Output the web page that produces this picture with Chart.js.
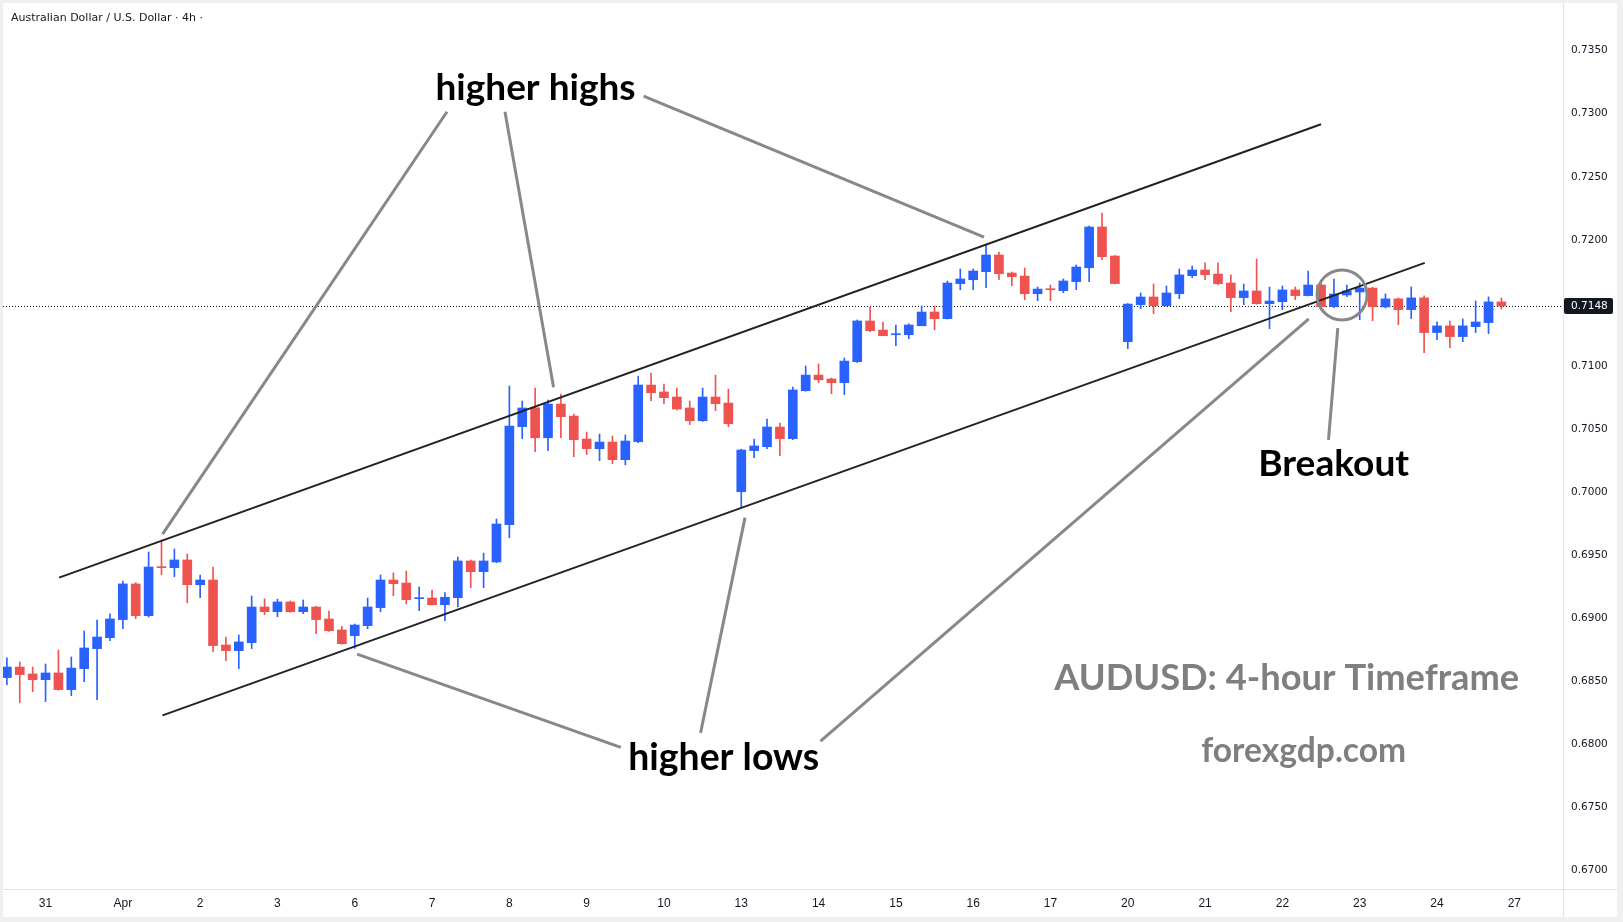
<!DOCTYPE html>
<html>
<head>
<meta charset="utf-8">
<script src="https://cdn.jsdelivr.net/npm/chart.js@4.4.1/dist/chart.umd.min.js"></script>
<style>
html,body{margin:0;padding:0;background:#fff;overflow:hidden}
#wrap{position:absolute;left:0;top:0;width:1623px;height:922px}
canvas{display:block}
</style>
</head>
<body>
<div id="wrap"><canvas id="c" width="1623" height="922" style="width:1623px;height:922px"></canvas></div>
<script>
// ---------- DATA (AUDUSD 4h candles, one per bar index) ----------
const chartTitle = 'Australian Dollar / U.S. Dollar · 4h ·';
const dayLabels = ['31','Apr','2','3','6','7','8','9','10','13','14','15','16','17','20','21','22','23','24','27'];
const dayStartBars = [3,9,15,21,27,33,39,45,51,57,63,69,75,81,87,93,99,105,111,117];
const priceTicks = [0.6700,0.6750,0.6800,0.6850,0.6900,0.6950,0.7000,0.7050,0.7100,0.7150,0.7200,0.7250,0.7300,0.7350];

const opens = [
0.68529,0.68613,0.68558,0.68513,0.68566,0.68434,0.68600,0.68759,0.68846,0.68989,
0.69272,0.69020,0.69406,0.69401,0.69462,0.69266,0.69303,0.68788,0.68743,0.68806,
0.69089,0.69052,0.69129,0.69052,0.69089,0.68994,0.68907,0.68862,0.68941,0.69084,
0.69303,0.69279,0.69155,0.69160,0.69107,0.69163,0.69454,0.69369,0.69446,0.69742,
0.70519,0.70669,0.70431,0.70698,0.70603,0.70421,0.70344,0.70397,0.70257,0.70400,
0.70849,0.70794,0.70754,0.70667,0.70566,0.70754,0.70706,0.70003,0.70329,0.70360,
0.70516,0.70424,0.70804,0.70928,0.70897,0.70868,0.71034,0.71357,0.71285,0.71248,
0.71248,0.71319,0.71428,0.71375,0.71653,0.71684,0.71748,0.71880,0.71737,0.71713,
0.71573,0.71610,0.71597,0.71669,0.71779,0.72102,0.71872,0.71193,0.71486,0.71547,
0.71478,0.71573,0.71716,0.71761,0.71729,0.71658,0.71542,0.71595,0.71494,0.71510,
0.71603,0.71558,0.71642,0.71470,0.71563,0.71587,0.71618,0.71468,0.71532,0.71447,
0.71540,0.71265,0.71318,0.71233,0.71312,0.71344,0.71508];
const highs = [
0.68685,0.68653,0.68613,0.68637,0.68748,0.68693,0.68899,0.68986,0.69034,0.69295,
0.69282,0.69525,0.69620,0.69549,0.69509,0.69343,0.69406,0.68851,0.68867,0.69176,
0.69153,0.69152,0.69137,0.69145,0.69095,0.69057,0.68936,0.68954,0.69160,0.69343,
0.69359,0.69374,0.69248,0.69224,0.69203,0.69485,0.69462,0.69517,0.69787,0.70841,
0.70722,0.70825,0.70730,0.70778,0.70619,0.70476,0.70460,0.70445,0.70453,0.70920,
0.70944,0.70857,0.70825,0.70722,0.70825,0.70928,0.70817,0.70340,0.70421,0.70580,
0.70548,0.70833,0.71000,0.71016,0.70905,0.71063,0.71365,0.71468,0.71349,0.71325,
0.71335,0.71476,0.71476,0.71674,0.71769,0.71769,0.71967,0.71904,0.71745,0.71777,
0.71626,0.71642,0.71690,0.71801,0.72110,0.72213,0.71875,0.71495,0.71579,0.71650,
0.71634,0.71769,0.71793,0.71817,0.71817,0.71722,0.71650,0.71848,0.71626,0.71634,
0.71626,0.71753,0.71666,0.71690,0.71642,0.71658,0.71626,0.71571,0.71540,0.71627,
0.71556,0.71350,0.71357,0.71373,0.71516,0.71548,0.71540];
const lows = [
0.68473,0.68331,0.68418,0.68339,0.68430,0.68386,0.68497,0.68354,0.68822,0.68917,
0.68997,0.69010,0.69346,0.69330,0.69123,0.69163,0.68735,0.68664,0.68600,0.68759,
0.69028,0.69012,0.69047,0.69036,0.68878,0.68895,0.68795,0.68761,0.68917,0.69052,
0.69179,0.69113,0.69060,0.69105,0.68981,0.69090,0.69242,0.69242,0.69440,0.69639,
0.70424,0.70320,0.70328,0.70431,0.70281,0.70297,0.70249,0.70225,0.70217,0.70392,
0.70725,0.70701,0.70651,0.70535,0.70560,0.70646,0.70519,0.69879,0.70273,0.70344,
0.70289,0.70416,0.70800,0.70868,0.70780,0.70773,0.71028,0.71272,0.71240,0.71161,
0.71216,0.71319,0.71288,0.71372,0.71605,0.71605,0.71621,0.71684,0.71637,0.71526,
0.71518,0.71518,0.71581,0.71605,0.71669,0.71843,0.71650,0.71137,0.71454,0.71415,
0.71475,0.71534,0.71700,0.71684,0.71645,0.71431,0.71486,0.71490,0.71296,0.71447,
0.71526,0.71555,0.71447,0.71462,0.71550,0.71367,0.71359,0.71460,0.71328,0.71376,
0.71106,0.71209,0.71146,0.71193,0.71265,0.71257,0.71452];
const closes = [
0.68613,0.68553,0.68513,0.68566,0.68434,0.68605,0.68764,0.68851,0.68994,0.69272,
0.69020,0.69406,0.69401,0.69462,0.69266,0.69303,0.68783,0.68743,0.68812,0.69089,
0.69052,0.69129,0.69052,0.69089,0.68989,0.68901,0.68798,0.68946,0.69089,0.69303,
0.69274,0.69147,0.69160,0.69107,0.69166,0.69454,0.69369,0.69454,0.69747,0.70524,
0.70667,0.70431,0.70698,0.70598,0.70416,0.70344,0.70397,0.70257,0.70405,0.70849,
0.70788,0.70749,0.70659,0.70566,0.70754,0.70701,0.70542,0.70334,0.70366,0.70516,
0.70424,0.70810,0.70928,0.70891,0.70868,0.71039,0.71357,0.71280,0.71240,0.71254,
0.71325,0.71428,0.71375,0.71658,0.71690,0.71753,0.71880,0.71732,0.71708,0.71573,
0.71610,0.71605,0.71674,0.71785,0.72102,0.71867,0.71653,0.71491,0.71547,0.71478,
0.71579,0.71722,0.71761,0.71724,0.71653,0.71542,0.71595,0.71494,0.71515,0.71603,
0.71558,0.71642,0.71470,0.71571,0.71595,0.71618,0.71470,0.71532,0.71447,0.71540,
0.71265,0.71318,0.71233,0.71318,0.71349,0.71508,0.71476];

// ---------- Drawn annotations, anchored in data units (bar index, price) ----------
const channelLines = [
  [[4.05, 0.69322], [102.0, 0.72917]],
  [[12.08, 0.68230], [110.05, 0.71818]]
];
const pointerLines = [
  [[34.16, 0.73016], [12.08, 0.69667]],
  [[38.66, 0.73016], [42.43, 0.70832]],
  [[49.42, 0.73139], [75.84, 0.72022]],
  [[47.65, 0.67976], [27.18, 0.68715]],
  [[53.84, 0.68091], [57.29, 0.69798]],
  [[63.15, 0.68025], [101.05, 0.71374]],
  [[102.58, 0.70414], [103.30, 0.71300]]
];
const breakoutCircle = [103.63, 0.71563];
const labelTexts = ['higher highs', 'higher lows', 'Breakout', 'AUDUSD: 4-hour Timeframe', 'forexgdp.com'];
const labelAnchors = [[41.03, 0.73106], [55.64, 0.67795], [102.98, 0.70126], [99.33, 0.68427], [100.65, 0.67861]];

// ---------- styles ----------
const UP = '#2962ff', DOWN = '#ef5350';
const labelStyles = [
  {w: 200, color: '#000000'},
  {w: 191, color: '#000000'},
  {w: 151, color: '#000000'},
  {w: 465, color: '#7f7f7f'},
  {w: 205, color: '#7f7f7f'}
];
const TEXTFONT = '"Lato", "Open Sans", sans-serif';
const AXISFONT = '"DejaVu Sans", sans-serif';

const idx = opens.map((_, i) => i);
const colors = idx.map(i => closes[i] >= opens[i] ? UP : DOWN);

const lineDs = (seg, color, width) => ({
  type: 'line',
  data: seg.map(([x, y]) => ({x, y})),
  borderColor: color,
  borderWidth: width,
  pointRadius: 0,
  fill: false,
  tension: 0,
  order: 0,
  clip: false
});

const datasets = [
  {
    type: 'bar',
    data: idx.map(i => ({x: i, y: [lows[i], highs[i]]})),
    backgroundColor: colors,
    barThickness: 1,
    grouped: false,
    order: 3
  },
  {
    type: 'bar',
    data: idx.map(i => ({x: i, y: [opens[i], closes[i]]})),
    backgroundColor: colors,
    barThickness: 9,
    minBarLength: 1,
    grouped: false,
    order: 2
  },
  ...channelLines.map(s => lineDs(s, '#222222', 2)),
  ...pointerLines.map(s => lineDs(s, '#888888', 3))
];

const decor = {
  id: 'decor',
  beforeDraw(chart) {
    const {ctx, chartArea: a, width, height} = chart;
    ctx.save();
    ctx.fillStyle = '#f0f0f0';
    ctx.fillRect(0, 0, width, height);
    ctx.fillStyle = '#ffffff';
    ctx.fillRect(3, 3, width - 9, height - 8);
    ctx.strokeStyle = '#e0e3eb';
    ctx.lineWidth = 1;
    ctx.beginPath();
    ctx.moveTo(a.right + 0.5, 3); ctx.lineTo(a.right + 0.5, height - 5);
    ctx.moveTo(3, a.bottom + 0.5); ctx.lineTo(width - 6, a.bottom + 0.5);
    ctx.stroke();
    ctx.restore();
  },
  beforeDatasetsDraw(chart) {
    const {ctx, chartArea: a, scales: {y}} = chart;
    const last = closes[closes.length - 1];
    const py = Math.round(y.getPixelForValue(last)) + 0.5;
    ctx.save();
    ctx.strokeStyle = '#131722';
    ctx.lineWidth = 1;
    ctx.setLineDash([1, 2]);
    ctx.beginPath();
    ctx.moveTo(a.left, py); ctx.lineTo(a.right, py);
    ctx.stroke();
    ctx.restore();
  },
  afterDraw(chart) {
    const {ctx, chartArea: a, scales: {x, y}} = chart;
    ctx.save();
    // breakout circle
    ctx.strokeStyle = '#888888';
    ctx.lineWidth = 3;
    ctx.beginPath();
    ctx.arc(x.getPixelForValue(breakoutCircle[0]), y.getPixelForValue(breakoutCircle[1]), 25, 0, Math.PI * 2);
    ctx.stroke();
    // annotation texts
    labelTexts.forEach((t, k) => {
      ctx.font = `700 100px ${TEXTFONT}`;
      const mw = ctx.measureText(t).width;
      const size = 100 * labelStyles[k].w / mw;
      ctx.font = `700 ${size.toFixed(2)}px ${TEXTFONT}`;
      ctx.fillStyle = labelStyles[k].color;
      ctx.textAlign = 'center';
      ctx.textBaseline = 'alphabetic';
      ctx.fillText(t, x.getPixelForValue(labelAnchors[k][0]), y.getPixelForValue(labelAnchors[k][1]));
    });
    // last price tag
    const last = closes[closes.length - 1];
    const py = y.getPixelForValue(last);
    ctx.fillStyle = '#131722';
    ctx.beginPath();
    if (ctx.roundRect) ctx.roundRect(a.right + 1, py - 8, 49, 16, 2); else ctx.rect(a.right + 1, py - 8, 49, 16);
    ctx.fill();
    ctx.fillStyle = '#ffffff';
    ctx.font = `10.5px ${AXISFONT}`;
    ctx.textAlign = 'left';
    ctx.textBaseline = 'middle';
    ctx.fillText(last.toFixed(4), a.right + 8, py + 0.5);
    // title
    ctx.fillStyle = '#131722';
    ctx.font = `11px ${AXISFONT}`;
    ctx.fillText(chartTitle, 11, 18);
    ctx.restore();
  }
};

new Chart(document.getElementById('c'), {
  type: 'bar',
  data: {datasets},
  plugins: [decor],
  options: {
    responsive: false,
    devicePixelRatio: 1,
    animation: false,
    events: [],
    layout: {padding: {left: 3, top: 3, right: 6, bottom: 5}},
    plugins: {legend: {display: false}, tooltip: {enabled: false}, title: {display: false}},
    scales: {
      x: {
        type: 'linear',
        min: -0.302,
        max: 120.78,
        offset: false,
        grid: {display: false, drawTicks: false},
        border: {display: false},
        afterBuildTicks: s => { s.ticks = dayStartBars.map(v => ({value: v})); },
        afterFit: s => { s.height = 28; s.paddingLeft = 0; s.paddingRight = 0; },
        ticks: {
          autoSkip: false,
          maxRotation: 0,
          minRotation: 0,
          padding: 7,
          color: '#131722',
          font: {family: '"Liberation Sans", Arial, sans-serif', size: 12},
          callback: (v, i) => dayLabels[i]
        }
      },
      y: {
        type: 'linear',
        position: 'right',
        min: 0.66853,
        max: 0.738782,
        grid: {display: false, drawTicks: false},
        border: {display: false},
        afterBuildTicks: s => { s.ticks = priceTicks.map(v => ({value: v})); },
        afterFit: s => { s.width = 54; s.paddingTop = 0; s.paddingBottom = 0; },
        ticks: {
          padding: 8,
          color: '#131722',
          font: {family: AXISFONT, size: 10.5},
          callback: v => Number(v).toFixed(4)
        }
      }
    }
  }
});
</script>
</body>
</html>
